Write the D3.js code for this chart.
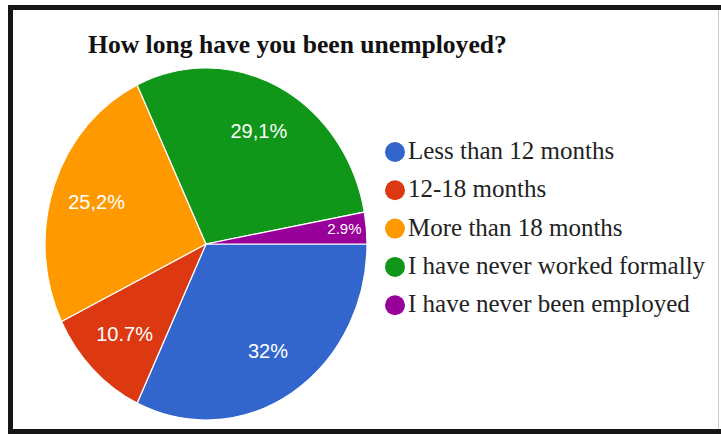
<!DOCTYPE html>
<html>
<head>
<meta charset="utf-8">
<script src="https://cdn.jsdelivr.net/npm/d3@7"></script>
<style>
  html, body { margin: 0; padding: 0; background: #fff; }
  svg { display: block; }
</style>
</head>
<body>
<svg id="chart" width="721" height="434"></svg>
<script>
// Survey answers: how long respondents have been unemployed
const categories = [
  "Less than 12 months",
  "12-18 months",
  "More than 18 months",
  "I have never worked formally",
  "I have never been employed"
];
const shares = [32, 10.7, 25.2, 29.1, 2.9];
const shareLabels = ["32%", "10.7%", "25,2%", "29,1%", "2.9%"];
const palette = ["#3366cc", "#dc3912", "#ff9900", "#109618", "#990099"];
const title = "How long have you been unemployed?";

const W = 721, H = 434;
const svg = d3.select("#chart");

svg.append("rect").attr("width", W).attr("height", H).attr("fill", "#fff");

// Pie geometry (slightly taller than wide)
const cx = 206, cy = 244, rx = 161, ry = 176;
const yScale = ry / rx;

const color = d3.scaleOrdinal().domain(categories).range(palette);

const pie = d3.pie()
  .sort(null)
  .value(d => d.value)
  .startAngle(Math.PI / 2)
  .endAngle(Math.PI / 2 + 2 * Math.PI);

const data = categories.map((c, i) => ({ name: c, value: shares[i], label: shareLabels[i] }));
const arcs = pie(data);

const arc = d3.arc().innerRadius(0).outerRadius(rx);

const pieG = svg.append("g")
  .attr("transform", `translate(${cx},${cy}) scale(1,${yScale})`);

pieG.selectAll("path")
  .data(arcs)
  .join("path")
  .attr("d", arc)
  .attr("fill", d => color(d.data.name))
  .attr("stroke", "#fff")
  .attr("stroke-width", 1.2)
  .attr("vector-effect", "non-scaling-stroke");

// Slice value labels
const labelArc = d3.arc().innerRadius(rx * 0.72).outerRadius(rx * 0.72);
const edgeArc = d3.arc().innerRadius(rx * 0.97).outerRadius(rx * 0.97);

svg.append("g")
  .selectAll("text")
  .data(arcs)
  .join("text")
  .each(function (d) {
    const small = (d.endAngle - d.startAngle) < 0.3;
    const [x, y] = (small ? edgeArc : labelArc).centroid(d);
    d3.select(this)
      .attr("x", cx + x)
      .attr("y", cy + y * yScale)
      .attr("text-anchor", small ? "end" : "middle")
      .attr("font-size", small ? 15 : 20);
  })
  .attr("dominant-baseline", "central")
  .attr("font-family", "'Liberation Sans', Arial, sans-serif")
  .attr("fill", "#fff")
  .text(d => d.data.label);

// Title
svg.append("text")
  .attr("x", 88)
  .attr("y", 53)
  .attr("font-family", "'Liberation Serif', 'Times New Roman', serif")
  .attr("font-weight", "bold")
  .attr("font-size", 25.6)
  .attr("fill", "#111")
  .text(title);

// Legend
const legend = svg.append("g").attr("transform", "translate(395,152)");
const rowH = 38.3;
const rows = legend.selectAll("g")
  .data(categories)
  .join("g")
  .attr("transform", (d, i) => `translate(0,${i * rowH})`);

rows.append("circle")
  .attr("r", 10)
  .attr("fill", d => color(d));

rows.append("text")
  .attr("x", 13)
  .attr("y", 7)
  .attr("font-family", "'Liberation Serif', 'Times New Roman', serif")
  .attr("font-size", 25)
  .attr("fill", "#222")
  .text(d => d);

// Frame
const frame = svg.append("g").attr("fill", "none").attr("stroke", "#161616");
frame.append("line").attr("x1", 8).attr("x2", W).attr("y1", 7.5).attr("y2", 7.5).attr("stroke-width", 5);
frame.append("line").attr("x1", 10.5).attr("x2", 10.5).attr("y1", 5).attr("y2", H).attr("stroke-width", 5);
frame.append("line").attr("x1", 8).attr("x2", W).attr("y1", 431.5).attr("y2", 431.5).attr("stroke-width", 5);
frame.append("line").attr("x1", 718.5).attr("x2", 718.5).attr("y1", 10).attr("y2", 429)
  .attr("stroke", "#c8c8c8").attr("stroke-width", 1);
</script>
</body>
</html>
